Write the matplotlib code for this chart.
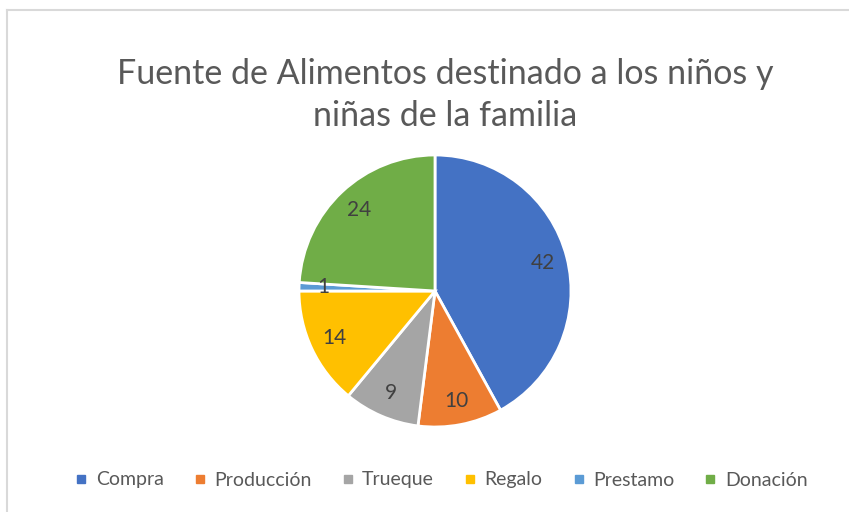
import numpy as np
import matplotlib.pyplot as plt
from matplotlib.lines import Line2D

# data
categories = ['Compra', 'Producción', 'Trueque', 'Regalo', 'Prestamo', 'Donación']
values = [42, 10, 9, 14, 1, 24]
colors = ['#4472C4', '#ED7D31', '#A5A5A5', '#FFC000', '#5B9BD5', '#70AD47']
title = 'Fuente de Alimentos destinado a los niños y\nniñas de la familia'

plt.rcParams['font.family'] = ['Lato', 'DejaVu Sans']

W, H = 849, 512
fig = plt.figure(figsize=(W / 100, H / 100), dpi=100)

# pie axes: centre ~ (435, 291) px, radius ~136 px
cx, cy, r = 435, 291, 136
ax = fig.add_axes([(cx - r) / W, 1 - (cy + r) / H, 2 * r / W, 2 * r / H])
wedges, texts = ax.pie(values, colors=colors, startangle=90, counterclock=False,
                       wedgeprops=dict(edgecolor='white', linewidth=2))
ax.set_xlim(-1, 1)
ax.set_ylim(-1, 1)
ax.set_aspect('auto')

# value labels inside slices
angle = 90.0
total = sum(values)
for v in values:
    mid = np.deg2rad(angle - 360 * v / total / 2)
    angle -= 360 * v / total
    ax.text(0.82 * np.cos(mid), 0.82 * np.sin(mid), str(v), ha='center', va='center',
            fontsize=15, color='#404040')

fig.text(445 / W, 1 - 95 / H, title, ha='center', va='center', fontsize=24.5,
         color='#595959', linespacing=1.38)

handles = [Line2D([], [], marker='s', linestyle='none', markersize=6, color=c)
           for c in colors]
fig.legend(handles, categories, loc='center', bbox_to_anchor=(441 / W, 1 - 480 / H),
           ncol=6, frameon=False, fontsize=14, handlelength=0.7, handletextpad=0.4,
           columnspacing=1.5, labelcolor='#595959')

# chart border (top and left visible)
fig.add_artist(Line2D([6.5 / W, 6.5 / W], [0, 1 - 9.5 / H], transform=fig.transFigure,
                      color='#D9D9D9', linewidth=1.5))
fig.add_artist(Line2D([6.5 / W, 1], [1 - 9.5 / H, 1 - 9.5 / H], transform=fig.transFigure,
                      color='#D9D9D9', linewidth=1.5))

fig.savefig('out.png', dpi=100, facecolor='white')
